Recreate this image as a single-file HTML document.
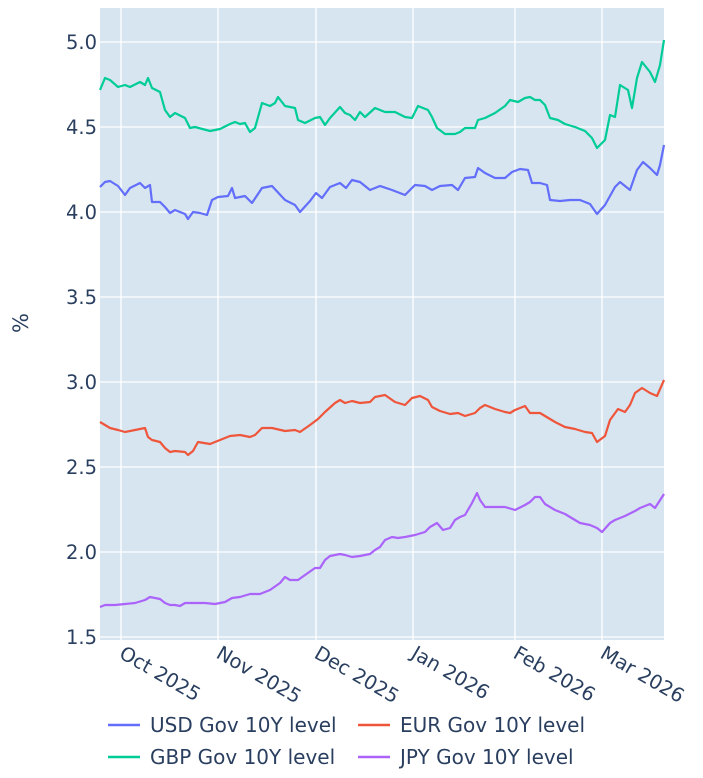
<!DOCTYPE html>
<html><head><style>body{margin:0;background:#fff}svg{display:block}text{font-family:"DejaVu Sans",sans-serif;fill:#2a3f5f}</style></head><body>
<svg width="703" height="778" viewBox="0 0 703 778">
<rect x="100" y="8" width="564" height="632" fill="#d6e5f0"/>
<g stroke="#fff" stroke-width="1.3">
<line x1="100" x2="664" y1="42" y2="42"/><line x1="100" x2="664" y1="127" y2="127"/><line x1="100" x2="664" y1="212" y2="212"/><line x1="100" x2="664" y1="297" y2="297"/><line x1="100" x2="664" y1="382" y2="382"/><line x1="100" x2="664" y1="467" y2="467"/><line x1="100" x2="664" y1="552" y2="552"/><line x1="100" x2="664" y1="637" y2="637"/>
<line x1="121" x2="121" y1="8" y2="640"/><line x1="218" x2="218" y1="8" y2="640"/><line x1="316" x2="316" y1="8" y2="640"/><line x1="413" x2="413" y1="8" y2="640"/><line x1="515" x2="515" y1="8" y2="640"/><line x1="602" x2="602" y1="8" y2="640"/>
</g>
<g font-size="19.5" text-anchor="end">
<text x="97" y="49">5.0</text><text x="97" y="134">4.5</text><text x="97" y="219">4.0</text><text x="97" y="304">3.5</text><text x="97" y="389">3.0</text><text x="97" y="474">2.5</text><text x="97" y="559">2.0</text><text x="97" y="644">1.5</text>
</g>
<g font-size="19.5">
<text transform="translate(118,657) rotate(30)">Oct 2025</text>
<text transform="translate(215,657) rotate(30)">Nov 2025</text>
<text transform="translate(313,657) rotate(30)">Dec 2025</text>
<text transform="translate(410,657) rotate(30)">Jan 2026</text>
<text transform="translate(512,657) rotate(30)">Feb 2026</text>
<text transform="translate(599,657) rotate(30)">Mar 2026</text>
</g>
<text transform="translate(28,323) rotate(-90)" font-size="21" text-anchor="middle">%</text>
<g fill="none" stroke-width="2.2" stroke-linejoin="round">
<polyline stroke="#636efa" points="100,187 105,182 110,181 118,186 125,195 130,188 140,183 145,188 150,185 152,202 160,202 165,207 170,213 175,210 185,214 188,219 193,212 200,213 207,215 212,200 218,197 228,196 232,188 235,198 245,196 252,203 262,188 272,186 285,200 295,205 300,212 310,201 316,193 322,198 330,187 340,183 346,188 352,180 360,182 370,190 380,186 392,190 405,195 415,185 425,186 432,190 440,186 452,185 458,190 465,178 475,177 478,168 485,173 495,178 505,178 512,172 520,169 528,170 532,183 540,183 547,185 550,200 560,201 570,200 580,200 590,204 597,214 605,205 615,187 620,182 630,190 637,170 643,162 650,168 657,175 660,165 664,145"/>
<polyline stroke="#00cc96" points="100,90 105,78 110,80 118,87 125,85 130,87 140,82 145,85 148,78 152,88 160,92 165,110 170,117 175,113 185,118 190,128 195,127 210,131 220,129 230,124 235,122 240,124 245,123 250,132 255,128 262,103 270,106 275,103 278,97 285,106 295,108 298,120 305,123 315,118 320,117 325,125 330,118 340,107 345,113 350,115 355,120 360,112 365,117 375,108 385,112 395,112 405,117 412,118 418,106 428,110 432,117 437,128 445,134 455,134 460,132 465,128 475,128 478,120 485,118 495,113 505,106 510,100 518,102 525,98 530,97 535,100 540,100 545,105 550,118 558,120 565,124 575,127 585,131 592,138 597,148 605,140 610,115 615,117 620,85 628,90 632,108 637,78 642,62 650,72 655,82 660,65 664,40"/>
<polyline stroke="#ef553b" points="100,422 105,425 110,428 118,430 125,432 135,430 145,428 148,437 152,440 160,442 165,448 170,452 175,451 185,452 188,455 193,451 198,442 210,444 220,440 230,436 240,435 250,437 255,435 262,428 272,428 285,431 295,430 300,432 310,425 318,419 325,412 335,403 340,400 345,403 352,401 360,403 370,402 375,397 385,395 395,402 405,405 412,398 420,396 428,400 432,407 440,411 450,414 458,413 465,416 475,413 480,408 485,405 495,409 505,412 510,413 515,410 525,406 530,413 540,413 545,416 555,422 565,427 575,429 585,432 592,433 597,442 605,436 610,420 618,409 625,412 630,405 635,393 642,388 650,393 657,396 664,380"/>
<polyline stroke="#ab63fa" points="100,607 105,605 115,605 125,604 135,603 145,600 150,597 160,599 165,603 170,605 175,605 180,606 185,603 195,603 205,603 215,604 225,602 232,598 240,597 250,594 260,594 270,590 280,583 285,577 290,580 298,580 305,575 315,568 320,568 325,560 330,556 340,554 345,555 352,557 360,556 370,554 375,550 380,547 385,540 392,537 398,538 405,537 415,535 425,532 430,527 437,523 443,530 450,528 455,520 460,517 465,515 472,503 477,493 480,500 485,507 495,507 505,507 515,510 525,505 530,502 535,497 540,497 545,504 555,510 565,514 570,517 580,523 590,525 597,528 602,532 610,523 615,520 625,516 635,511 640,508 650,504 655,508 664,494"/>
</g>
<g stroke-width="2.5">
<line x1="108" x2="140" y1="725" y2="725" stroke="#636efa"/>
<line x1="358" x2="390" y1="725" y2="725" stroke="#ef553b"/>
<line x1="108" x2="140" y1="757" y2="757" stroke="#00cc96"/>
<line x1="358" x2="390" y1="757" y2="757" stroke="#ab63fa"/>
</g>
<g font-size="20">
<text x="150" y="732">USD Gov 10Y level</text>
<text x="400" y="732">EUR Gov 10Y level</text>
<text x="150" y="764">GBP Gov 10Y level</text>
<text x="400" y="764">JPY Gov 10Y level</text>
</g>
</svg>
</body></html>
